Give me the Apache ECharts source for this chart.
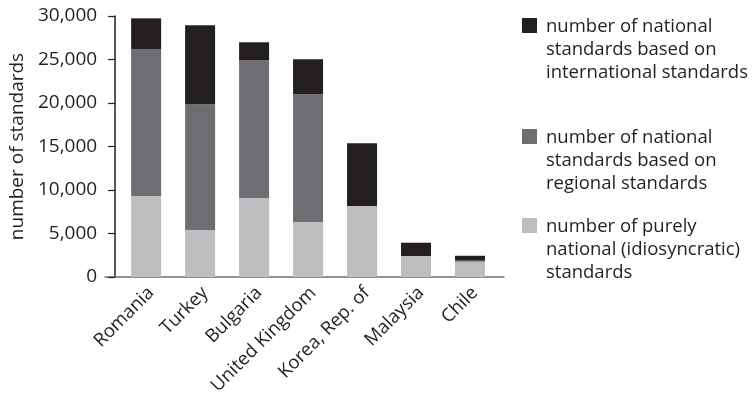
<!DOCTYPE html>
<html>
<head>
<meta charset="utf-8">
<script src="https://cdn.jsdelivr.net/npm/echarts@6/dist/echarts.min.js"></script>
<style>
  html, body { margin: 0; padding: 0; background: #fff; }
  #chart { width: 753px; height: 401px; }
</style>
</head>
<body>
<div id="chart"></div>
<script>
// Countries, in order of total number of national standards
var categories = ['Romania', 'Turkey', 'Bulgaria', 'United Kingdom', 'Korea, Rep. of', 'Malaysia', 'Chile'];

// Stack segments, bottom to top
var purelyNational = [9300, 5400, 9070, 6310, 8150, 2410, 1760];
var regionalBased = [16870, 14460, 15840, 14700, 0, 0, 120];
var internationalBased = [3560, 9070, 2070, 4020, 7230, 1530, 560];

var seriesNames = [
  'number of purely\nnational (idiosyncratic)\nstandards',
  'number of national\nstandards based on\nregional standards',
  'number of national\nstandards based on\ninternational standards'
];
var seriesColors = ['#bcbec0', '#6d6e71', '#231f20'];

var yTicks = { min: 0, max: 30000, interval: 5000 };

var FONT = '"Open Sans", sans-serif';
var TEXT = '#231f20';

var chart = echarts.init(document.getElementById('chart'), null, { renderer: 'canvas' });

var values = [purelyNational, regionalBased, internationalBased];
var series = values.map(function (arr, i) {
  return {
    name: seriesNames[i],
    type: 'bar',
    stack: 'total',
    barWidth: 30,
    xAxisIndex: 0,
    yAxisIndex: 0,
    itemStyle: { color: seriesColors[i] },
    data: arr
  };
});

// Legend: top entry is the top of the stack
var legendTops = [18, 129, 218];
var legendGraphics = [];
[2, 1, 0].forEach(function (si, k) {
  legendGraphics.push({
    type: 'rect',
    left: 522, top: legendTops[k],
    shape: { width: 15, height: 15 },
    style: { fill: seriesColors[si] }
  });
  legendGraphics.push({
    type: 'text',
    left: 546, top: legendTops[k] - 3,
    style: {
      text: seriesNames[si],
      font: '18.5px ' + FONT,
      fill: TEXT,
      lineHeight: 23
    }
  });
});

chart.setOption({
  animation: false,
  textStyle: { fontFamily: FONT, color: TEXT },
  grid: [
    { left: 117, width: 380, top: 16, bottom: 124 },
    { left: 105, width: 399, top: 16, bottom: 124 }
  ],
  xAxis: [
    {
      type: 'category',
      gridIndex: 0,
      data: categories,
      axisLine: { show: false },
      axisTick: { show: false },
      axisLabel: {
        rotate: 45,
        margin: 18,
        padding: [0, -7, 0, 0],
        fontSize: 18.5,
        color: TEXT,
        fontFamily: FONT,
        interval: 0
      }
    },
    {
      type: 'value',
      gridIndex: 1,
      min: 0, max: 1,
      axisLine: { show: true, lineStyle: { color: '#6d6e71', width: 1.5 } },
      axisTick: { show: false },
      axisLabel: { show: false },
      splitLine: { show: false }
    }
  ],
  yAxis: [
    {
      type: 'value',
      gridIndex: 0,
      min: yTicks.min,
      max: yTicks.max,
      interval: yTicks.interval,
      offset: 4,
      name: 'number of standards',
      nameLocation: 'middle',
      nameGap: 86,
      nameTextStyle: { fontSize: 19, color: TEXT, fontFamily: FONT },
      axisLine: { show: true, lineStyle: { color: '#231f20', width: 1.5 } },
      axisTick: { show: true, length: 7, lineStyle: { color: '#231f20', width: 1.2 } },
      axisLabel: { fontSize: 19, margin: 18, color: TEXT, fontFamily: FONT },
      splitLine: { show: false }
    },
    {
      type: 'value',
      gridIndex: 1,
      show: false
    }
  ],
  series: series,
  graphic: legendGraphics
});
</script>
</body>
</html>
